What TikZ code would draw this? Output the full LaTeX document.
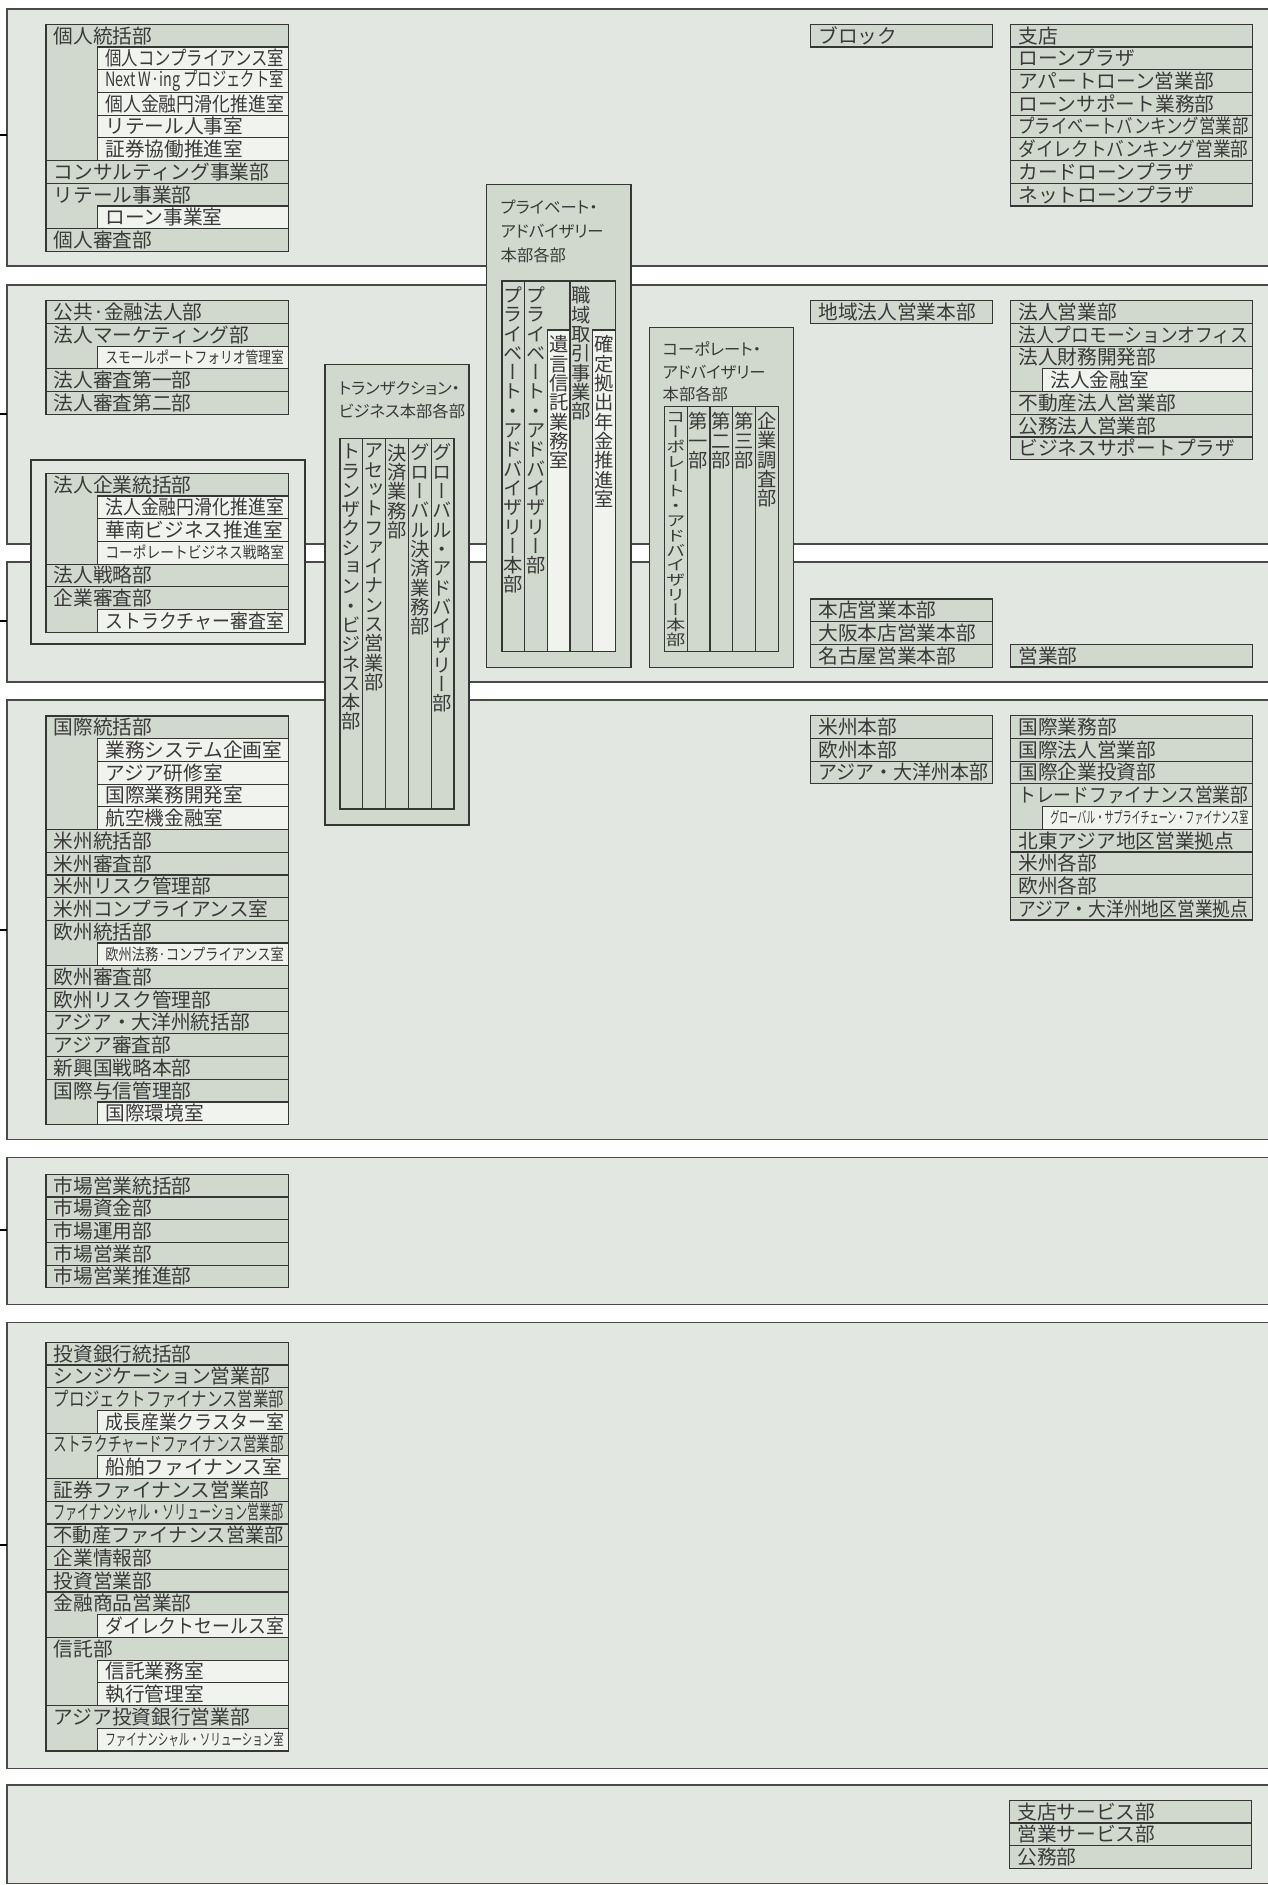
\documentclass[tikz,border=0pt]{standalone}
\usepackage{fontspec}
\usepackage{graphicx}
\setmainfont{Noto Sans CJK JP}
\newfontfamily\titlefam{Noto Sans CJK JP}[RawFeature=+palt]
\newfontfamily\vertfont{Noto Sans CJK JP}[RawFeature=+vert]
\usetikzlibrary{positioning}

\definecolor{secfill}{HTML}{E2E7E1}
\definecolor{deptfill}{HTML}{D1D8CE}
\definecolor{roomfill}{HTML}{F1F3EF}
\definecolor{lineg}{HTML}{363636}
\definecolor{textg}{HTML}{3A3A3A}

\newcommand\rowh{22.7}
\newcommand\rowfont{\fontsize{19.7}{19.7}\selectfont}
\newcommand\colfont{\fontsize{19.3}{19.3}\selectfont}
\newcommand\smallrow{\fontsize{16}{16}\selectfont}

% squeeze a text to a width / a height
\newsavebox\fitbox
\newlength\fitw
\newcommand\fitto[2]{\pgfmathsetlength\fitw{#1}\sbox\fitbox{#2}%
  \ifdim\wd\fitbox>\fitw\resizebox{\fitw}{\height}{\usebox\fitbox}\else\usebox\fitbox\fi}
\newcommand\vfitto[2]{\pgfmathsetlength\fitw{#1}\sbox\fitbox{#2}%
  \ifdim\dimexpr\ht\fitbox+\dp\fitbox\relax>\fitw\resizebox*{\wd\fitbox}{\fitw}{\usebox\fitbox}\else\usebox\fitbox\fi}

% one character under the other
\makeatletter
\newcommand\vstack[1]{\edef\vst@txt{#1}\vbox{\vertfont\colfont\hsize=1em\baselineskip=1em
  \lineskiplimit=-\maxdimen\parindent=0pt\expandafter\vst@loop\vst@txt\relax}}
\def\vst@loop#1{\ifx#1\relax\else\hbox to\hsize{\hss#1\hss}\expandafter\vst@loop\fi}
\makeatother

% list of departments: name, x, y, width, indent, rows (d = dept, r = room, s = small room)
\newcommand\orglist[6]{%
  \foreach \kind/\txt [count=\n from 0] in {#6}{%
    \if\kind d%
      \node[dept, minimum width=#4] (#1-\n) at (#2,{#3+\n*\rowh}) {};
      \node[rowtext] at ([xshift=7.5]#1-\n.west) {\fitto{#4-12}{\txt}};
    \else
      \fill[deptfill] ({#2+0.6},{#3+\n*\rowh-0.6}) rectangle ({#2+#5},{#3+(\n+1)*\rowh});
      \node[room, minimum width={#4-#5}] (#1-\n) at ({#2+#5},{#3+\n*\rowh}) {};
      \node[rowtext] at ([xshift=7.5]#1-\n.west) {\fitto{#4-#5-12}{\if\kind s\smallrow\fi\txt}};
    \fi
    \xdef\lastrow{\n}%
  }%
  \draw[listline] (#2,#3) rectangle (#1-\lastrow.south east);
}

\begin{document}
\begin{tikzpicture}[x=1pt, y=-1pt,
    sect/.style={draw=lineg!90, fill=secfill, line width=1.4pt, anchor=north west, inner sep=0pt, outer sep=0pt},
    hqbox/.style={draw=lineg, fill=#1, line width=1.3pt, anchor=north west, inner sep=0pt, outer sep=0pt},
    dept/.style={draw=lineg, fill=deptfill, line width=1.2pt, anchor=north west, minimum height=\rowh, inner sep=0pt, outer sep=0pt},
    room/.style={dept, fill=roomfill},
    listline/.style={draw=lineg, line width=1.2pt},
    rowtext/.style={anchor=west, inner sep=0pt, font=\rowfont, text=textg},
    coltext/.style={anchor=north, inner sep=0pt, text=textg},
    title/.style={anchor=north west, inner sep=0pt, align=left, text=textg},
    tick/.style={line width=2.7pt, black}]

    \useasboundingbox (0,0) rectangle (1268,1885);
    \fill[white] (0,0) rectangle (1268,1885);
    \clip (0,0) rectangle (1268,1885);

    % Sections
    \node[sect, minimum width=1280, minimum height=257] (sec1) at (7,9) {};
    \node[sect, minimum width=1280, minimum height=259] (sec2) at (7,285) {};
    \node[sect, minimum width=1280, minimum height=120] (sec3) at (7,562) {};
    \node[sect, minimum width=1280, minimum height=439.3] (sec4) at (7,700) {};
    \node[sect, minimum width=1280, minimum height=147] (sec5) at (7,1157.3) {};
    \node[sect, minimum width=1280, minimum height=446] (sec6) at (7,1322.3) {};
    \node[sect, minimum width=1280, minimum height=98.3] (sec7) at (7,1785) {};

    % Ticks
    \coordinate (t1) at (0,135);
    \coordinate (t2) at (0,414);
    \coordinate (t3) at (0,621);
    \coordinate (t4) at (0,930);
    \coordinate (t5) at (0,1230);
    \coordinate (t6) at (0,1545);
    \foreach \s in {1,...,6} \draw[tick] (t\s) -- (t\s -| sec\s.west);

    % Boxes over the gaps
    \node[hqbox=secfill, minimum width=274, minimum height=184] (corpgrp) at (31,460) {};
    \node[hqbox=deptfill, minimum width=144, minimum height=460.7] (txbox) at (325,364.3) {};
    \node[hqbox=deptfill, minimum width=144.3, minimum height=483] (pabox) at (486.7,184.3) {};
    \node[hqbox=deptfill, minimum width=144, minimum height=340.4] (cabox) at (649.3,327.3) {};

    \node[title, font=\titlefam\fontsize{16.3}{22.7}\selectfont] (txtitle) at (338.5,381.5) {トランザクション・\\ビジネス本部各部};
    \node[title, font=\titlefam\fontsize{16.3}{24}\selectfont] (patitle) at (500.5,199.5) {プライベート・\\アドバイザリー\\本部各部};
    \node[title, font=\titlefam\fontsize{16.3}{22.5}\selectfont] (catitle) at (662.5,341.5) {コーポレート・\\アドバイザリー\\本部各部};

    % Transaction columns
    \foreach \txt [count=\n from 0] in {トランザクション・ビジネス本部, アセットファイナンス営業部, 決済業務部, グローバル決済業務部, グローバル・アドバイザリー部}{
        \node[dept, minimum width=22.8, minimum height=370.7] (tx-\n) at ({340+\n*22.8},438.3) {};
        \node[coltext] at ([yshift=-5.5]tx-\n.north) {\vfitto{358}{\vstack{\txt}}};
    }

    % Private advisory columns
    \node[dept, minimum width=22.66, minimum height=370.7] (pa-0) at (502,281) {};
    \node[dept, minimum width=45.32, minimum height=370.7] (pa-1) at (524.66,281) {};
    \node[room, minimum width=22.66, minimum height=321.7] (pa-2) at (547.32,330) {};
    \node[dept, minimum width=45.32, minimum height=370.7] (pa-3) at (569.98,281) {};
    \node[room, minimum width=22.66, minimum height=321.7] (pa-4) at (592.64,330) {};
    \node[coltext] at ([yshift=-5.5]pa-0.north) {\vstack{プライベート・アドバイザリー本部}};
    \node[coltext] at ([xshift=11.33, yshift=-5.5]pa-1.north west) {\vstack{プライベート・アドバイザリー部}};
    \node[coltext] at ([yshift=-5.5]pa-2.north) {\vstack{遺言信託業務室}};
    \node[coltext] at ([xshift=11.33, yshift=-5.5]pa-3.north west) {\vstack{職域取引事業部}};
    \node[coltext] at ([yshift=-5.5]pa-4.north) {\vstack{確定拠出年金推進室}};

    % Corporate advisory columns
    \foreach \txt [count=\n from 0] in {コーポレート・アドバイザリー本部, 第一部, 第二部, 第三部, 企業調査部}{
        \node[dept, minimum width=22.8, minimum height=245] (ca-\n) at ({664.3+\n*22.8},406.7) {};
        \node[coltext] at ([yshift=-5.5]ca-\n.north) {\vfitto{234}{\vstack{\txt}}};
    }

    % Retail
    \orglist{L1}{46}{24.3}{242.3}{51.7}{d/個人統括部, r/個人コンプライアンス室, r/Next W·ing プロジェクト室, r/個人金融円滑化推進室, r/リテール人事室, r/証券協働推進室, d/コンサルティング事業部, d/リテール事業部, r/ローン事業室, d/個人審査部}
    \orglist{A1}{810.7}{24.3}{182}{0}{d/ブロック}
    \orglist{R1}{1010.7}{24.3}{242}{32}{d/支店, d/ローンプラザ, d/アパートローン営業部, d/ローンサポート業務部, d/プライベートバンキング営業部, d/ダイレクトバンキング営業部, d/カードローンプラザ, d/ネットローンプラザ}

    % Corporate
    \orglist{L2}{46}{300.7}{242.3}{51.7}{d/公共·金融法人部, d/法人マーケティング部, s/スモールポートフォリオ管理室, d/法人審査第一部, d/法人審査第二部}
    \orglist{A2}{810.7}{300.7}{182}{0}{d/地域法人営業本部}
    \orglist{R2}{1010.7}{300.7}{242}{32}{d/法人営業部, d/法人プロモーションオフィス, d/法人財務開発部, r/法人金融室, d/不動産法人営業部, d/公務法人営業部, d/ビジネスサポートプラザ}
    \orglist{L3}{46}{473.3}{242.3}{51.7}{d/法人企業統括部, r/法人金融円滑化推進室, r/華南ビジネス推進室, s/コーポレートビジネス戦略室, d/法人戦略部, d/企業審査部, r/ストラクチャー審査室}

    % Head office
    \orglist{A3}{810.7}{599}{182}{0}{d/本店営業本部, d/大阪本店営業本部, d/名古屋営業本部}
    \orglist{R3}{1010.7}{644.3}{242}{32}{d/営業部}

    % International
    \orglist{L4}{46}{716}{242.3}{51.7}{d/国際統括部, r/業務システム企画室, r/アジア研修室, r/国際業務開発室, r/航空機金融室, d/米州統括部, d/米州審査部, d/米州リスク管理部, d/米州コンプライアンス室, d/欧州統括部, s/欧州法務·コンプライアンス室, d/欧州審査部, d/欧州リスク管理部, d/アジア・大洋州統括部, d/アジア審査部, d/新興国戦略本部, d/国際与信管理部, r/国際環境室}
    \orglist{A4}{810.7}{715.7}{182}{0}{d/米州本部, d/欧州本部, d/アジア・大洋州本部}
    \orglist{R4}{1010.7}{715.7}{242}{32}{d/国際業務部, d/国際法人営業部, d/国際企業投資部, d/トレードファイナンス営業部, s/グローバル・サプライチェーン・ファイナンス室, d/北東アジア地区営業拠点, d/米州各部, d/欧州各部, d/アジア・大洋州地区営業拠点}

    % Markets
    \orglist{L5}{46}{1174.3}{242.3}{51.7}{d/市場営業統括部, d/市場資金部, d/市場運用部, d/市場営業部, d/市場営業推進部}

    % Investment banking
    \orglist{L6}{46}{1342.3}{242.3}{51.7}{d/投資銀行統括部, d/シンジケーション営業部, d/プロジェクトファイナンス営業部, r/成長産業クラスター室, d/ストラクチャードファイナンス営業部, r/船舶ファイナンス室, d/証券ファイナンス営業部, d/ファイナンシャル・ソリューション営業部, d/不動産ファイナンス営業部, d/企業情報部, d/投資営業部, d/金融商品営業部, r/ダイレクトセールス室, d/信託部, r/信託業務室, r/執行管理室, d/アジア投資銀行営業部, s/ファイナンシャル・ソリューション室}

    % Services
    \orglist{R7}{1009.7}{1800.3}{242}{32}{d/支店サービス部, d/営業サービス部, d/公務部}

\end{tikzpicture}
\end{document}
